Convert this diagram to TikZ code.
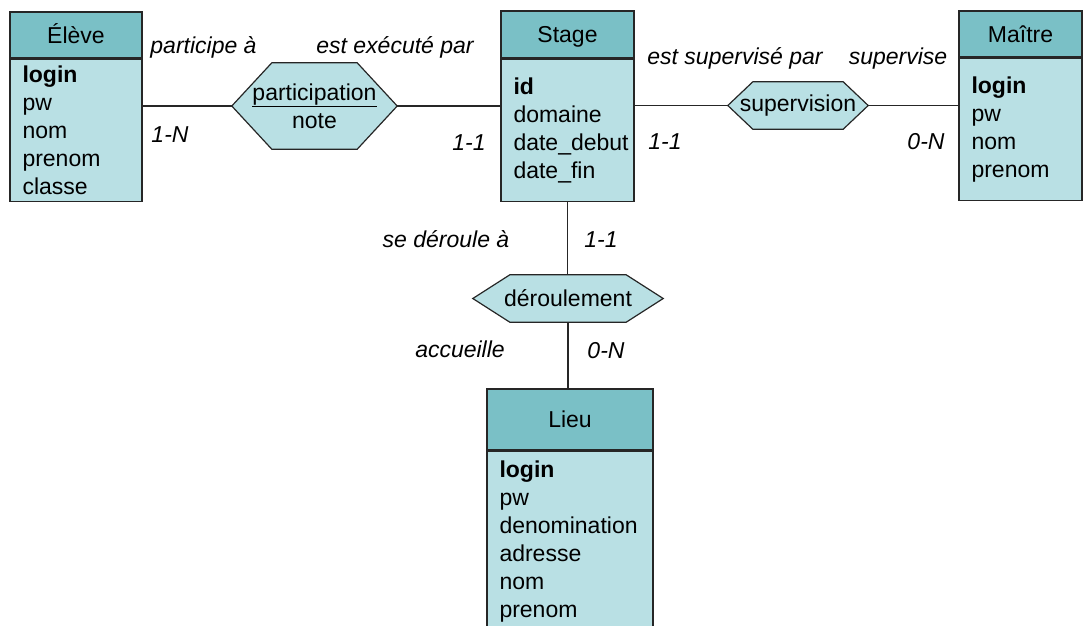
\documentclass[tikz,border=0pt]{standalone}
\usepackage{fontspec}
\setmainfont{Liberation Sans}
\usetikzlibrary{positioning,backgrounds}
\hfuzz=20pt

\definecolor{headcol}{RGB}{122,192,198}
\definecolor{bodycol}{RGB}{185,224,228}

\tikzset{
  head/.style={draw=black!85, fill=headcol, line width=1.2pt, inner sep=0pt, text height=20pt, text depth=4pt},
  attrs/.style={draw=black!85, fill=bodycol, line width=1.2pt, anchor=north, align=left, inner xsep=12.5pt, inner ysep=0pt},
  relbox/.style={inner sep=0pt, align=center},
  relshape/.style={draw=black!85, fill=bodycol, line width=1.2pt},
  card/.style={font=\fontsize{23}{28}\selectfont\itshape, anchor=base},
  link/.style={draw=black!85, line width=1.2pt},
}

% hexagone autour d'une association : nom du noeud, biseau
\newcommand{\hexrel}[2]{%
  \draw[relshape] (#1.west) -- ([xshift=#2]#1.north west) -- ([xshift=-#2]#1.north east)
    -- (#1.east) -- ([xshift=-#2]#1.south east) -- ([xshift=#2]#1.south west) -- cycle;}

\begin{document}
\begin{tikzpicture}[x=1pt, y=-1pt, every node/.style={font=\fontsize{23}{28}\selectfont}]
        \useasboundingbox (0,0) rectangle (1083,625);
        \clip (0,0) rectangle (1083,625);

        % entites
        \node (eleve) [head, minimum width=132pt, minimum height=46pt] at (76,35) {Élève};
        \node (eleveattr) [attrs, text width=107pt, minimum height=142pt] at (eleve.south) {\textbf{login}\\pw\\nom\\prenom\\classe};

        \node (stage) [head, minimum width=133pt, minimum height=47pt] at (567.5,34.5) {Stage};
        \node (stageattr) [attrs, text width=108pt, minimum height=142pt] at (stage.south) {\textbf{id}\\domaine\\date\_debut\\date\_fin};

        \node (maitre) [head, minimum width=123pt, minimum height=46pt] at (1020.5,34) {Maître};
        \node (maitreattr) [attrs, text width=98pt, minimum height=142pt] at (maitre.south) {\textbf{login}\\pw\\nom\\prenom};

        \node (lieu) [head, minimum width=166pt, minimum height=61pt] at (570,419.5) {Lieu};
        \node (lieuattr) [attrs, text width=141pt, minimum height=180pt] at (lieu.south) {\textbf{login}\\pw\\denomination\\adresse\\nom\\prenom};

        % associations
        \node (part) [relbox, minimum width=165pt, minimum height=86pt] at (314.5,106) {\underline{participation}\\note};
        \node (sup) [relbox, minimum width=140pt, minimum height=47pt] at (798,105.5) {supervision};
        \node (derou) [relbox, minimum width=190pt, minimum height=47pt] at (568,298.5) {déroulement};

        \begin{scope}[on background layer]
            \hexrel{part}{40pt}
            \hexrel{sup}{25pt}
            \hexrel{derou}{37pt}
        \end{scope}

        \draw[link] (part.west) -- (part.west -| eleveattr.east);
        \draw[link] (part.east) -- (part.east -| stageattr.west);
        \draw[link] (sup.west) -- (sup.west -| stageattr.east);
        \draw[link] (sup.east) -- (sup.east -| maitreattr.west);
        \draw[link] (stageattr.south) -- (stageattr.south |- derou.north);
        \draw[link] (derou.south) -- (derou.south |- lieu.north);

        % roles et cardinalites
        \node (rpart) [card] at (203.5,53) {participe à};
        \node (cpart) [card] at (170,142) {1-N};
        \node (rexec) [card] at (395,53) {est exécuté par};
        \node (cexec) [card] at (469,150) {1-1};
        \node (rsupd) [card] at (735,64) {est supervisé par};
        \node (csupd) [card] at (665,149) {1-1};
        \node (rsup) [card] at (898,64) {supervise};
        \node (csup) [card] at (926,149) {0-N};
        \node (rderou) [card] at (446,247) {se déroule à};
        \node (cderou) [card] at (601,247) {1-1};
        \node (racc) [card] at (460,357) {accueille};
        \node (cacc) [card] at (606,358) {0-N};
    \end{tikzpicture}
\end{document}
